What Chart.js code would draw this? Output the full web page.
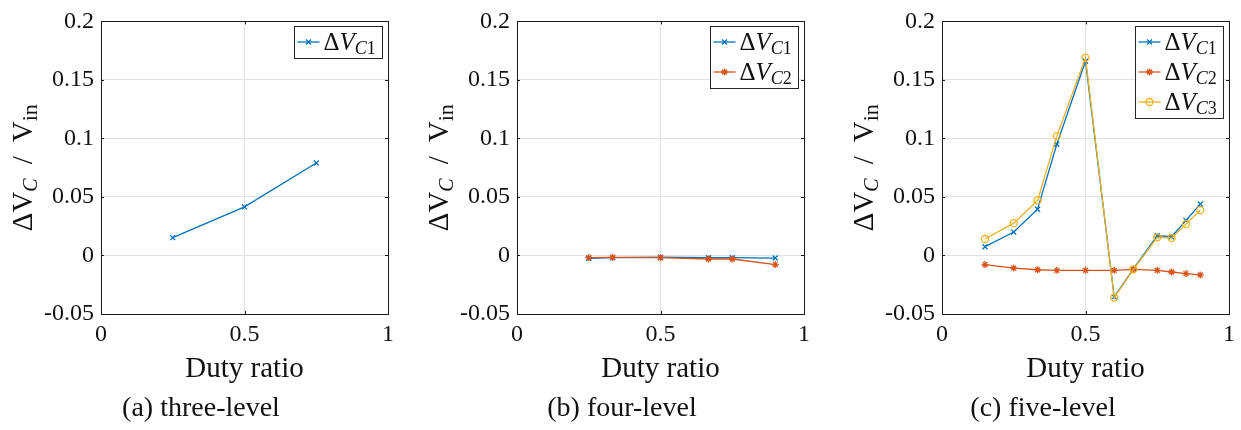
<!DOCTYPE html>
<html>
<head>
<meta charset="utf-8">
<script src="https://cdn.jsdelivr.net/npm/chart.js@4.4.1/dist/chart.umd.min.js"></script>
<style>
  body { margin: 0; background: #fff; width: 1241px; height: 430px; overflow: hidden; position: relative; }
  canvas { position: absolute; top: 0; }
  .caption {
    position: absolute; top: 392px; line-height: 30px; transform: translateX(-50%);
    font-family: "Liberation Serif", "DejaVu Serif", serif; font-size: 28px; color: #111; white-space: nowrap;
  }
</style>
</head>
<body>
<canvas id="panelA" width="400" height="430" style="left:0px"></canvas>
<canvas id="panelB" width="400" height="430" style="left:416px"></canvas>
<canvas id="panelC" width="400" height="430" style="left:841px"></canvas>
<div class="caption" style="left:201px">(a) three-level</div>
<div class="caption" style="left:622px">(b) four-level</div>
<div class="caption" style="left:1043px">(c) five-level</div>
<script>
// (a) three-level
const dutyA = [0.25, 0.5, 0.75];
const vc1A = [0.0152, 0.0415, 0.079];

// (b) four-level
const dutyB = [0.25, 0.333, 0.5, 0.667, 0.75, 0.9];
const vc1B = [-0.0025, -0.0018, -0.0015, -0.0019, -0.0019, -0.0022];
const vc2B = [-0.0018, -0.0017, -0.0019, -0.003, -0.003, -0.0078];

// (c) five-level
const dutyC = [0.15, 0.25, 0.333, 0.4, 0.5, 0.6, 0.667, 0.75, 0.8, 0.85, 0.9];
const vc1C = [0.0075, 0.02, 0.0395, 0.095, 0.166, -0.0354, -0.0114, 0.0169, 0.016, 0.030, 0.044];
const vc2C = [-0.0078, -0.0108, -0.0122, -0.0127, -0.0127, -0.0127, -0.0119, -0.0127, -0.0141, -0.0155, -0.0166];
const vc3C = [0.0141, 0.0276, 0.047, 0.102, 0.169, -0.036, -0.0118, 0.0155, 0.0149, 0.0268, 0.0387];

const xTicks = [0, 0.5, 1];
const yTicks = [-0.05, 0, 0.05, 0.1, 0.15, 0.2];

const blue = '#0072BD', orange = '#D95319', yellow = '#EDB120';
const serif = '"Liberation Serif", "DejaVu Serif", serif';

// draw text made of pieces (for italics and subscripts)
function drawRich(ctx, parts, x, y, align) {
    let total = 0;
    parts.forEach(p => {
        ctx.font = (p.italic ? 'italic ' : '') + p.size + 'px ' + serif;
        p.w = ctx.measureText(p.t).width + (p.gap || 0);
        total += p.w;
    });
    let cx = align === 'center' ? x - total / 2 : x;
    ctx.textAlign = 'left';
    ctx.textBaseline = 'alphabetic';
    parts.forEach(p => {
        ctx.font = (p.italic ? 'italic ' : '') + p.size + 'px ' + serif;
        ctx.fillText(p.t, cx + (p.gap || 0) / 2, y + (p.dy || 0));
        cx += p.w;
    });
}

const matlabAxes = {
    id: 'matlabAxes',
    afterDraw(chart) {
        const { ctx, chartArea: a, scales } = chart;
        ctx.save();
        // box and inward tick marks
        ctx.strokeStyle = '#1a1a1a';
        ctx.lineWidth = 1;
        ctx.strokeRect(Math.round(a.left) + 0.5, Math.round(a.top) + 0.5,
            Math.round(a.right - a.left), Math.round(a.bottom - a.top));
        ctx.beginPath();
        yTicks.forEach(v => {
            const py = Math.round(scales.y.getPixelForValue(v)) + 0.5;
            ctx.moveTo(a.left, py); ctx.lineTo(a.left + 3, py);
            ctx.moveTo(a.right, py); ctx.lineTo(a.right - 3, py);
        });
        xTicks.forEach(v => {
            const px = Math.round(scales.x.getPixelForValue(v)) + 0.5;
            ctx.moveTo(px, a.bottom); ctx.lineTo(px, a.bottom - 3);
            ctx.moveTo(px, a.top); ctx.lineTo(px, a.top + 3);
        });
        ctx.stroke();

        // axis titles
        ctx.fillStyle = '#111';
        drawRich(ctx, [{ t: 'Duty ratio', size: 29 }], (a.left + a.right) / 2, 377, 'center');
        ctx.translate(32, (a.top + a.bottom) / 2);
        ctx.rotate(-Math.PI / 2);
        drawRich(ctx, [
            { t: '\u0394V', size: 29 },
            { t: 'C', size: 20, italic: true, dy: 5 },
            { t: '/', size: 29, gap: 28 },
            { t: 'V', size: 29 },
            { t: 'in', size: 22, dy: 5 }
        ], 0, 0, 'center');
        ctx.restore();

        // legend in the top right corner
        ctx.save();
        const sets = chart.data.datasets;
        const w = 88, rowH = 30;
        const left = Math.round(a.right - 6 - w) + 0.5, top = Math.round(a.top + 5) + 0.5;
        ctx.fillStyle = '#fff';
        ctx.fillRect(left, top, w, rowH * sets.length + 2);
        ctx.strokeStyle = '#262626';
        ctx.lineWidth = 1;
        ctx.strokeRect(left, top, w, rowH * sets.length + 2);
        sets.forEach((ds, i) => {
            const cy = top + 15.5 + rowH * i;
            ctx.strokeStyle = ds.borderColor;
            ctx.lineWidth = ds.borderWidth;
            ctx.beginPath();
            ctx.moveTo(left + 3, cy); ctx.lineTo(left + 25, cy);
            ctx.stroke();
            ctx.fillStyle = ds.pointBackgroundColor;
            Chart.helpers.drawPoint(ctx, {
                pointStyle: ds.pointStyle, radius: ds.pointRadius,
                rotation: 0, borderWidth: ds.borderWidth
            }, left + 14, cy);
            ctx.fillStyle = '#111';
            drawRich(ctx, [
                { t: '\u0394', size: 25 },
                { t: 'V', size: 25, italic: true },
                { t: 'C', size: 18, italic: true, dy: 4 },
                { t: ds.label.slice(-1), size: 18, dy: 4 }
            ], left + 29, cy + 8, 'left');
        });
        ctx.restore();
    }
};

function series(label, duty, values, color, style, radius, order) {
    return {
        label: label,
        data: duty.map((d, i) => ({ x: d, y: values[i] })),
        borderColor: color,
        borderWidth: 1.3,
        pointStyle: style,
        pointRadius: radius,
        pointBorderColor: color,
        pointBackgroundColor: style === 'circle' ? 'rgba(0,0,0,0)' : color,
        pointBorderWidth: 1.3,
        order: order,
        tension: 0
    };
}

function makePanel(id, datasets) {
    new Chart(document.getElementById(id).getContext('2d'), {
        type: 'line',
        data: { datasets: datasets },
        options: {
            responsive: false,
            animation: false,
            layout: { padding: { top: 13, right: 12, left: 0, bottom: 0 } },
            plugins: { legend: { display: false }, tooltip: { enabled: false } },
            scales: {
                x: {
                    type: 'linear', min: 0, max: 1,
                    afterFit: s => { s.height = 116; },
                    afterBuildTicks: s => { s.ticks = xTicks.map(v => ({ value: v })); },
                    grid: { color: '#e2e2e2', drawTicks: false },
                    border: { display: false },
                    ticks: {
                        padding: 6, color: '#111',
                        font: { family: serif, size: 24 },
                        callback: v => String(parseFloat(v.toFixed(3)))
                    }
                },
                y: {
                    type: 'linear', min: -0.05, max: 0.2,
                    afterFit: s => { s.width = 101; },
                    afterBuildTicks: s => { s.ticks = yTicks.map(v => ({ value: v })); },
                    grid: { color: '#e2e2e2', drawTicks: false },
                    border: { display: false },
                    ticks: {
                        padding: 7, color: '#111',
                        font: { family: serif, size: 24 },
                        callback: v => String(parseFloat(v.toFixed(3)))
                    }
                }
            }
        },
        plugins: [matlabAxes]
    });
}

makePanel('panelA', [
    series('C1', dutyA, vc1A, blue, 'crossRot', 3.5, 3)
]);
makePanel('panelB', [
    series('C1', dutyB, vc1B, blue, 'crossRot', 3.5, 3),
    series('C2', dutyB, vc2B, orange, 'star', 3.5, 2)
]);
makePanel('panelC', [
    series('C1', dutyC, vc1C, blue, 'crossRot', 3.5, 3),
    series('C2', dutyC, vc2C, orange, 'star', 3.5, 2),
    series('C3', dutyC, vc3C, yellow, 'circle', 3.5, 1)
]);
</script>
</body>
</html>
